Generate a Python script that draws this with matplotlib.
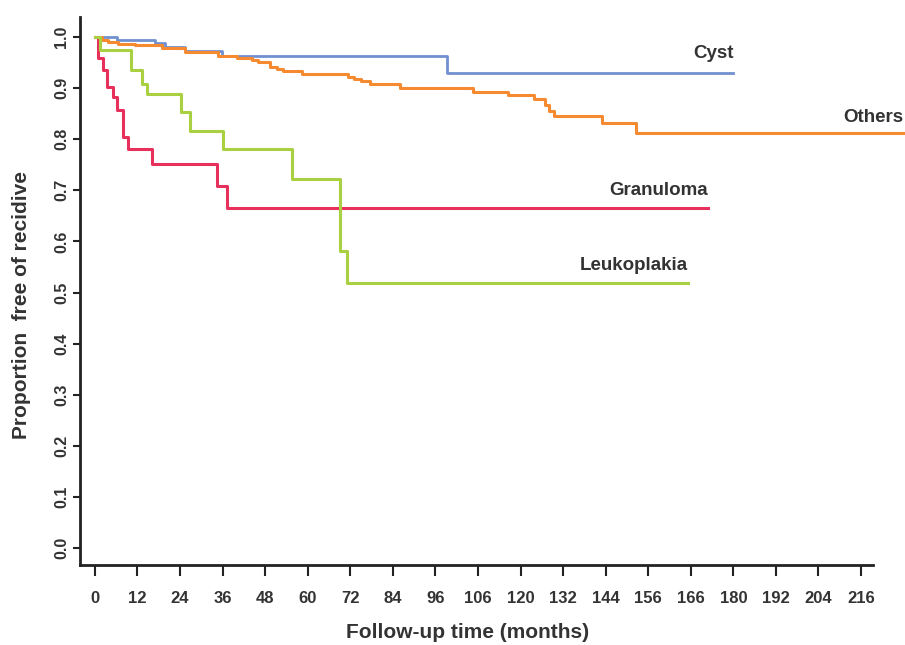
import matplotlib
matplotlib.use("Agg")
import matplotlib.pyplot as plt

plt.rcParams['font.family'] = ['Liberation Sans', 'DejaVu Sans']

# Kaplan-Meier step data (months, proportion free of recidive)
cyst_t = [0, 6.2, 16.9, 19.7, 25.4, 35.8, 99.2, 179.9]
cyst_s = [1.0, 0.995, 0.988, 0.981, 0.972, 0.963, 0.93, 0.93]

others_t = [0, 1.9, 3.7, 6.5, 11.3, 18.9, 25.4, 34.7, 40.0, 44.3, 46.0, 49.4, 51.4, 53.1,
            58.4, 71.4, 73.0, 75.0, 77.6, 86.1, 106.7, 116.6, 123.7, 127.0, 127.9, 129.3,
            143.1, 152.5, 228.0]
others_s = [1.0, 0.995, 0.99, 0.987, 0.984, 0.978, 0.971, 0.962, 0.958, 0.955, 0.951, 0.942,
            0.937, 0.933, 0.927, 0.922, 0.918, 0.914, 0.909, 0.901, 0.893, 0.886, 0.878,
            0.867, 0.856, 0.845, 0.831, 0.812, 0.812]

gran_t = [0, 0.85, 2.3, 3.4, 5.1, 6.2, 7.9, 9.3, 16.1, 34.4, 37.2, 172.8]
gran_s = [1.0, 0.958, 0.936, 0.902, 0.883, 0.858, 0.805, 0.78, 0.751, 0.708, 0.665, 0.665]

leuk_t = [0, 1.4, 10.1, 13.2, 14.6, 24.4, 26.8, 36.1, 55.5, 69.1, 71.0, 167.2]
leuk_s = [1.0, 0.975, 0.935, 0.909, 0.888, 0.854, 0.817, 0.78, 0.722, 0.582, 0.519, 0.519]

x_ticks = list(range(0, 217, 12))
x_tick_labels = ['0', '12', '24', '36', '48', '60', '72', '84', '96', '106', '120', '132',
                 '144', '156', '166', '180', '192', '204', '216']
y_ticks = [i / 10 for i in range(11)]

text_col = '#333333'

fig = plt.figure(figsize=(9.05, 6.45), dpi=100)
ax = fig.add_axes([80 / 905, 80 / 645, 825 / 905, 548.4 / 645])

ax.step(cyst_t, cyst_s, where='post', color='#7090d0', lw=2.0, clip_on=False)
ax.step(others_t, others_s, where='post', color='#f58a30', lw=2.2, clip_on=False)
ax.step(gran_t, gran_s, where='post', color='#e8305c', lw=2.2, clip_on=False)
ax.step(leuk_t, leuk_s, where='post', color='#a8d040', lw=2.2, clip_on=False)

lab = dict(fontsize=13.5, fontweight='bold', color=text_col, va='center')
ax.text(180, 0.968, 'Cyst', ha='right', **lab)
ax.text(228, 0.843, 'Others', ha='right', **lab)
ax.text(158.8, 0.70, 'Granuloma', ha='center', **lab)
ax.text(151.9, 0.552, 'Leukoplakia', ha='center', **lab)

ax.set_xlim(-4.2, 228.4)
ax.set_ylim(-0.0333, 1.04)
for s in ['top', 'right']:
    ax.spines[s].set_visible(False)
for s in ['left', 'bottom']:
    ax.spines[s].set_linewidth(2.0)
    ax.spines[s].set_color('#222222')
ax.spines['bottom'].set_bounds(-4.2, 219.5)

ax.set_xticks(x_ticks)
ax.set_xticklabels(x_tick_labels)
ax.set_yticks(y_ticks)
ax.set_yticklabels(['%.1f' % v for v in y_ticks], rotation=90, va='center')
ax.tick_params(axis='x', direction='out', length=8, width=1.5, color='#222222',
               pad=11, labelsize=12, labelcolor=text_col)
ax.tick_params(axis='y', direction='out', length=5, width=1.5, color='#222222',
               pad=3, labelsize=11.5, labelcolor=text_col)
for t in ax.get_xticklabels() + ax.get_yticklabels():
    t.set_fontweight('bold')

ax.set_xlabel('Follow-up time (months)', fontsize=15, fontweight='bold', color=text_col)
ax.set_ylabel('Proportion  free of recidive', fontsize=15, fontweight='bold', color=text_col)
ax.xaxis.label.set_verticalalignment('center')
ax.yaxis.label.set_verticalalignment('center')
ax.xaxis.set_label_coords((468 - 80) / 825, -(633 - 565) / 548.4)
ax.yaxis.set_label_coords((22 - 80) / 825, (565 - 305) / 548.4)

fig.savefig('out.png', dpi=100)
